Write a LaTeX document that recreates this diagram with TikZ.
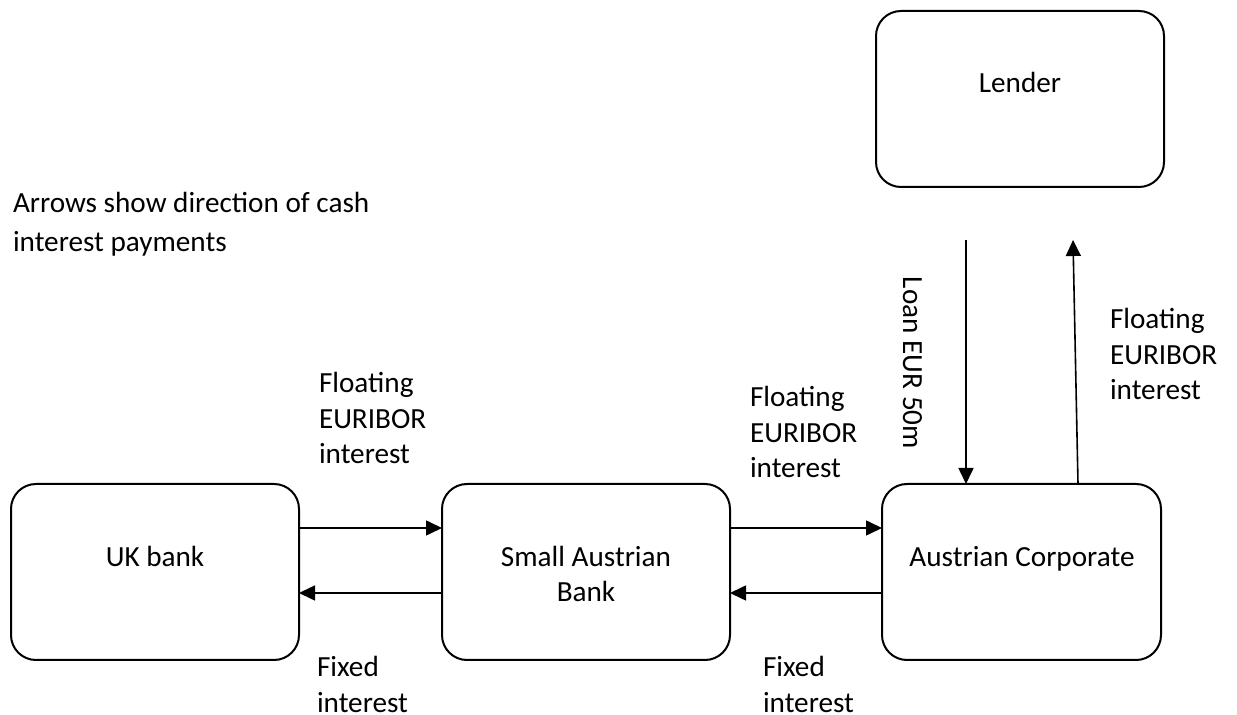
\documentclass[tikz,border=0pt]{standalone}
\usepackage{fontspec}
\setmainfont{Carlito}
\usetikzlibrary{arrows.meta}
\begin{document}
\begin{tikzpicture}[x=0.5pt,y=-0.5pt,
  every node/.style={font=\fontsize{14.6}{17.75}\selectfont},
  box/.style={draw, line width=1pt, rounded corners=12.5pt, inner sep=0pt, outer sep=0pt, minimum height=88pt},
  lbl/.style={inner sep=0pt, outer sep=0pt, align=left, anchor=base west},
  ctr/.style={inner sep=0pt, outer sep=0pt, align=center, anchor=base},
  arr/.style={line width=0.8pt, -{Triangle[length=8pt,width=7.5pt]}}]
\useasboundingbox (0,0) rectangle (1237,715);
% boxes
\node[box, minimum width=144pt] (uk) at (155,572) {};
\node[box, minimum width=144pt] (sab) at (586,572) {};
\node[box, minimum width=139.5pt] (corp) at (1021.5,572) {};
\node[box, minimum width=144pt] (lender) at (1020,99) {};
% box texts (anchor base = baseline of last line)
\node[ctr] (ukt) at (155,567) {UK bank};
\node[ctr] (sabt) at (586,602) {Small Austrian\\Bank};
\node[ctr] (corpt) at (1022,567) {Austrian Corporate};
\node[ctr] (lendert) at (1020,93) {Lender};
% horizontal arrows
\draw[arr] ([yshift=22pt]uk.east) -- ([yshift=22pt]sab.west);
\draw[arr] ([yshift=-10.5pt]sab.west) -- ([yshift=-10.5pt]uk.east);
\draw[arr] ([yshift=22pt]sab.east) -- ([yshift=22pt]corp.west);
\draw[arr] ([yshift=-10.5pt]corp.west) -- ([yshift=-10.5pt]sab.east);
% vertical arrows
\coordinate (ltop) at (966,240);
\coordinate (rtop) at (1073,240);
\draw[arr] (ltop) -- (ltop |- corp.north);
\draw[arr] ([xshift=28.25pt]corp.north) -- (rtop);
% labels (anchor base = baseline of last line)
\node[lbl, font=\fontsize{14.6}{19.5}\selectfont] (note) at (13,252) {Arrows show direction of cash\\interest payments};
\node[lbl] (fl1) at (319,464) {Floating\\EURIBOR\\interest};
\node[lbl] (fl2) at (750,478) {Floating\\EURIBOR\\interest};
\node[lbl] (fl3) at (1110,400) {Floating\\EURIBOR\\interest};
\node[lbl] (fx1) at (317,712) {Fixed\\interest};
\node[lbl] (fx2) at (763,712) {Fixed\\interest};
\node[inner sep=0pt, outer sep=0pt, anchor=base west, rotate=-90] (loan) at (903,277) {Loan EUR 50m};
\end{tikzpicture}
\end{document}
